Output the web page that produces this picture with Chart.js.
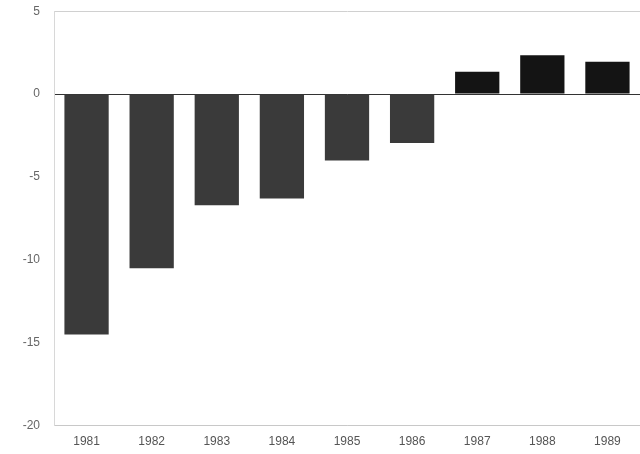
<!DOCTYPE html>
<html>
<head>
<meta charset="utf-8">
<script src="https://cdn.jsdelivr.net/npm/chart.js@4/dist/chart.umd.min.js"></script>
<style>
  html, body { margin: 0; padding: 0; background: #fff; }
  #wrap { width: 640px; height: 454px; }
</style>
</head>
<body>
<div id="wrap"><canvas id="chart" width="640" height="454"></canvas></div>
<script>
// Data
const years = ['1981', '1982', '1983', '1984', '1985', '1986', '1987', '1988', '1989'];
const values = [-14.5, -10.5, -6.7, -6.3, -4.0, -2.95, 1.35, 2.35, 1.95];
const yTicks = [5, 0, -5, -10, -15, -20];

// Bar colours: grey for deficits, near black for surpluses
const barColors = values.map(v => v < 0 ? '#3a3a3a' : '#141414');

const ctx = document.getElementById('chart').getContext('2d');

new Chart(ctx, {
  type: 'bar',
  data: {
    labels: years,
    datasets: [{
      data: values,
      backgroundColor: barColors,
      borderWidth: 0,
      categoryPercentage: 1,
      barPercentage: 0.68
    }]
  },
  options: {
    responsive: false,
    animation: false,
    layout: { padding: { top: 0, right: -4, bottom: 4, left: 0 } },
    plugins: {
      legend: { display: false },
      tooltip: { enabled: false }
    },
    scales: {
      x: {
        grid: { display: false },
        border: { display: true, color: '#c8c8c8' },
        ticks: {
          color: '#555',
          font: { family: 'Liberation Sans', size: 12 },
          padding: 1
        }
      },
      y: {
        min: -20,
        max: 5,
        afterFit: axis => { axis.width = 54; },
        afterBuildTicks: axis => {
          axis.ticks = yTicks.map(v => ({ value: v }));
        },
        grid: {
          drawTicks: true,
          tickLength: 10,
          tickColor: 'rgba(0,0,0,0)',
          color: c => c.tick.value === 0 ? '#333' : (c.tick.value === 5 || c.tick.value === -20 ? '#d0d0d0' : 'rgba(0,0,0,0)')
        },
        border: { display: true, color: '#d8d8d8' },
        ticks: {
          color: '#666',
          font: { family: 'Liberation Sans', size: 12 },
          padding: 4
        }
      }
    }
  }
});
</script>
</body>
</html>
